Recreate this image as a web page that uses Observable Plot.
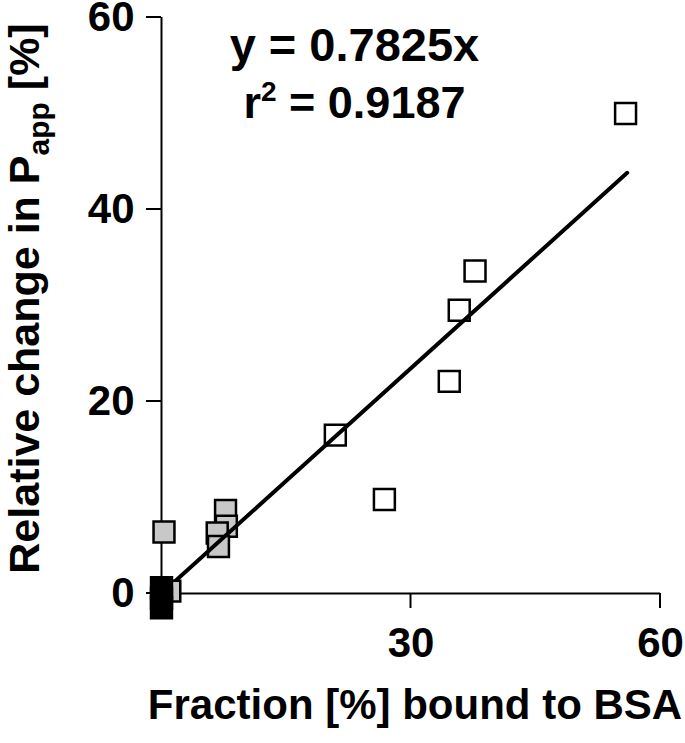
<!DOCTYPE html>
<html>
<head>
<meta charset="utf-8">
<script src="https://cdn.jsdelivr.net/npm/d3@7"></script>
<script src="https://cdn.jsdelivr.net/npm/@observablehq/plot@0.6"></script>
<style>
  html, body { margin: 0; padding: 0; background: #fff; }
  svg { display: block; }
</style>
</head>
<body>
<div id="chart"></div>
<script>
// Open squares (highly bound compounds)
const openX = [55.8, 37.7, 35.8, 34.6, 20.9, 26.8];
const openY = [50.0, 33.6, 29.5, 22.1, 16.5, 9.8];
// Gray squares
const grayX = [7.7, 7.8, 6.7, 6.85];
const grayY = [8.65, 7.0, 6.3, 4.9];
const grayLowX = [1.0, 0.3];
const grayLowY = [0.25, 6.4];
// Black squares
const blackX = [0, 0, 0];
const blackY = [0.6, -0.5, -1.5];
// Regression y = 0.7825x
const slope = 0.7825;
const fitX = [0, 56];
const yTicks = [0, 20, 40, 60];
const xTicks = [0, 30, 60];
const xTickLabels = [30, 60];
const eqText = "y = 0.7825x";
const r2Text = "r2 = 0.9187";
const xLabel = "Fraction [%] bound to BSA";

const toPts = (xs, ys) => xs.map((x, i) => ({x, y: ys[i]}));
const openPts = toPts(openX, openY);
const grayPts = toPts(grayX, grayY);
const grayLowPts = toPts(grayLowX, grayLowY);
const blackPts = toPts(blackX, blackY);
const fitPts = fitX.map(x => ({x, y: slope * x}));

const font = "'Liberation Sans', Arial, sans-serif";
const sq = {symbol: "square", r: 11.8, strokeWidth: 2.5, stroke: "black"};

const chart = Plot.plot({
  width: 685,
  height: 743,
  marginLeft: 161,
  marginRight: 25,
  marginTop: 17,
  marginBottom: 150,
  x: {type: "linear", domain: [0, 60], axis: null},
  y: {type: "linear", domain: [0, 60], axis: null},
  style: {fontFamily: font, fontWeight: "bold", background: "white", overflow: "visible"},
  marks: [
    // axes
    Plot.ruleX([0], {y1: 0, y2: 60, stroke: "black", strokeWidth: 2}),
    Plot.ruleY([0], {x1: 0, x2: 60, stroke: "black", strokeWidth: 2}),
    Plot.text(yTicks, {x: 0, y: d => d, text: d => String(d), textAnchor: "end", dx: -27, fontSize: 42, fill: "black"}),
    Plot.text(xTickLabels, {x: d => d, y: 0, text: d => String(d), dy: 50, fontSize: 42, fill: "black"}),
    // data
    Plot.dot(openPts, {x: "x", y: "y", ...sq, fill: "white"}),
    Plot.dot(grayPts, {x: "x", y: "y", ...sq, fill: "#c8c8c8"}),
    Plot.line(fitPts, {x: "x", y: "y", stroke: "black", strokeWidth: 4}),
    Plot.dot(grayLowPts, {x: "x", y: "y", ...sq, fill: "#c8c8c8"}),
    Plot.dot(blackPts, {x: "x", y: "y", ...sq, fill: "black"}),
    // annotation
    Plot.text([eqText], {x: 23.2, y: 57.0, text: d => d, fontSize: 47, fill: "black"}),
    Plot.text([r2Text], {x: 23.2, y: 51.0, text: d => d, fontSize: 45, fill: "black", className: "r2"}),
    // axis labels
    Plot.text([xLabel], {frameAnchor: "bottom", text: d => d, textAnchor: "middle", dy: 125, dx: 4, fontSize: 42, fill: "black"}),
    Plot.text(["ylabel"], {frameAnchor: "left", text: d => d, textAnchor: "middle", rotate: -90, dx: -136, dy: -7, fontSize: 43, fill: "black", className: "ylab"})
  ]
});

document.getElementById("chart").appendChild(chart);

// outward tick marks positioned with the plot's own scales
const xs = chart.scale("x"), ys = chart.scale("y");
const svg = d3.select(chart);
const g = svg.append("g").attr("stroke", "black").attr("stroke-width", 2);
yTicks.forEach(t => g.append("line").attr("x1", xs.apply(0) - 15).attr("x2", xs.apply(0)).attr("y1", ys.apply(t)).attr("y2", ys.apply(t)));
xTicks.forEach(t => g.append("line").attr("x1", xs.apply(t)).attr("x2", xs.apply(t)).attr("y1", ys.apply(0)).attr("y2", ys.apply(0) + 15));
g.lower();

// y label with subscript
const yl = svg.select("g.ylab text");
yl.text(null);
yl.append("tspan").text("Relative change in P");
yl.append("tspan").attr("font-size", 30).attr("dy", 10).text("app");
yl.append("tspan").attr("dy", -10).text(" [%]");

// r² with a real superscript
const rt = svg.select("g.r2 text");
rt.text(null);
rt.append("tspan").text("r");
rt.append("tspan").attr("font-size", 28).attr("dy", -17).text("2");
rt.append("tspan").attr("dy", 17).text(" = 0.9187");
</script>
</body>
</html>
